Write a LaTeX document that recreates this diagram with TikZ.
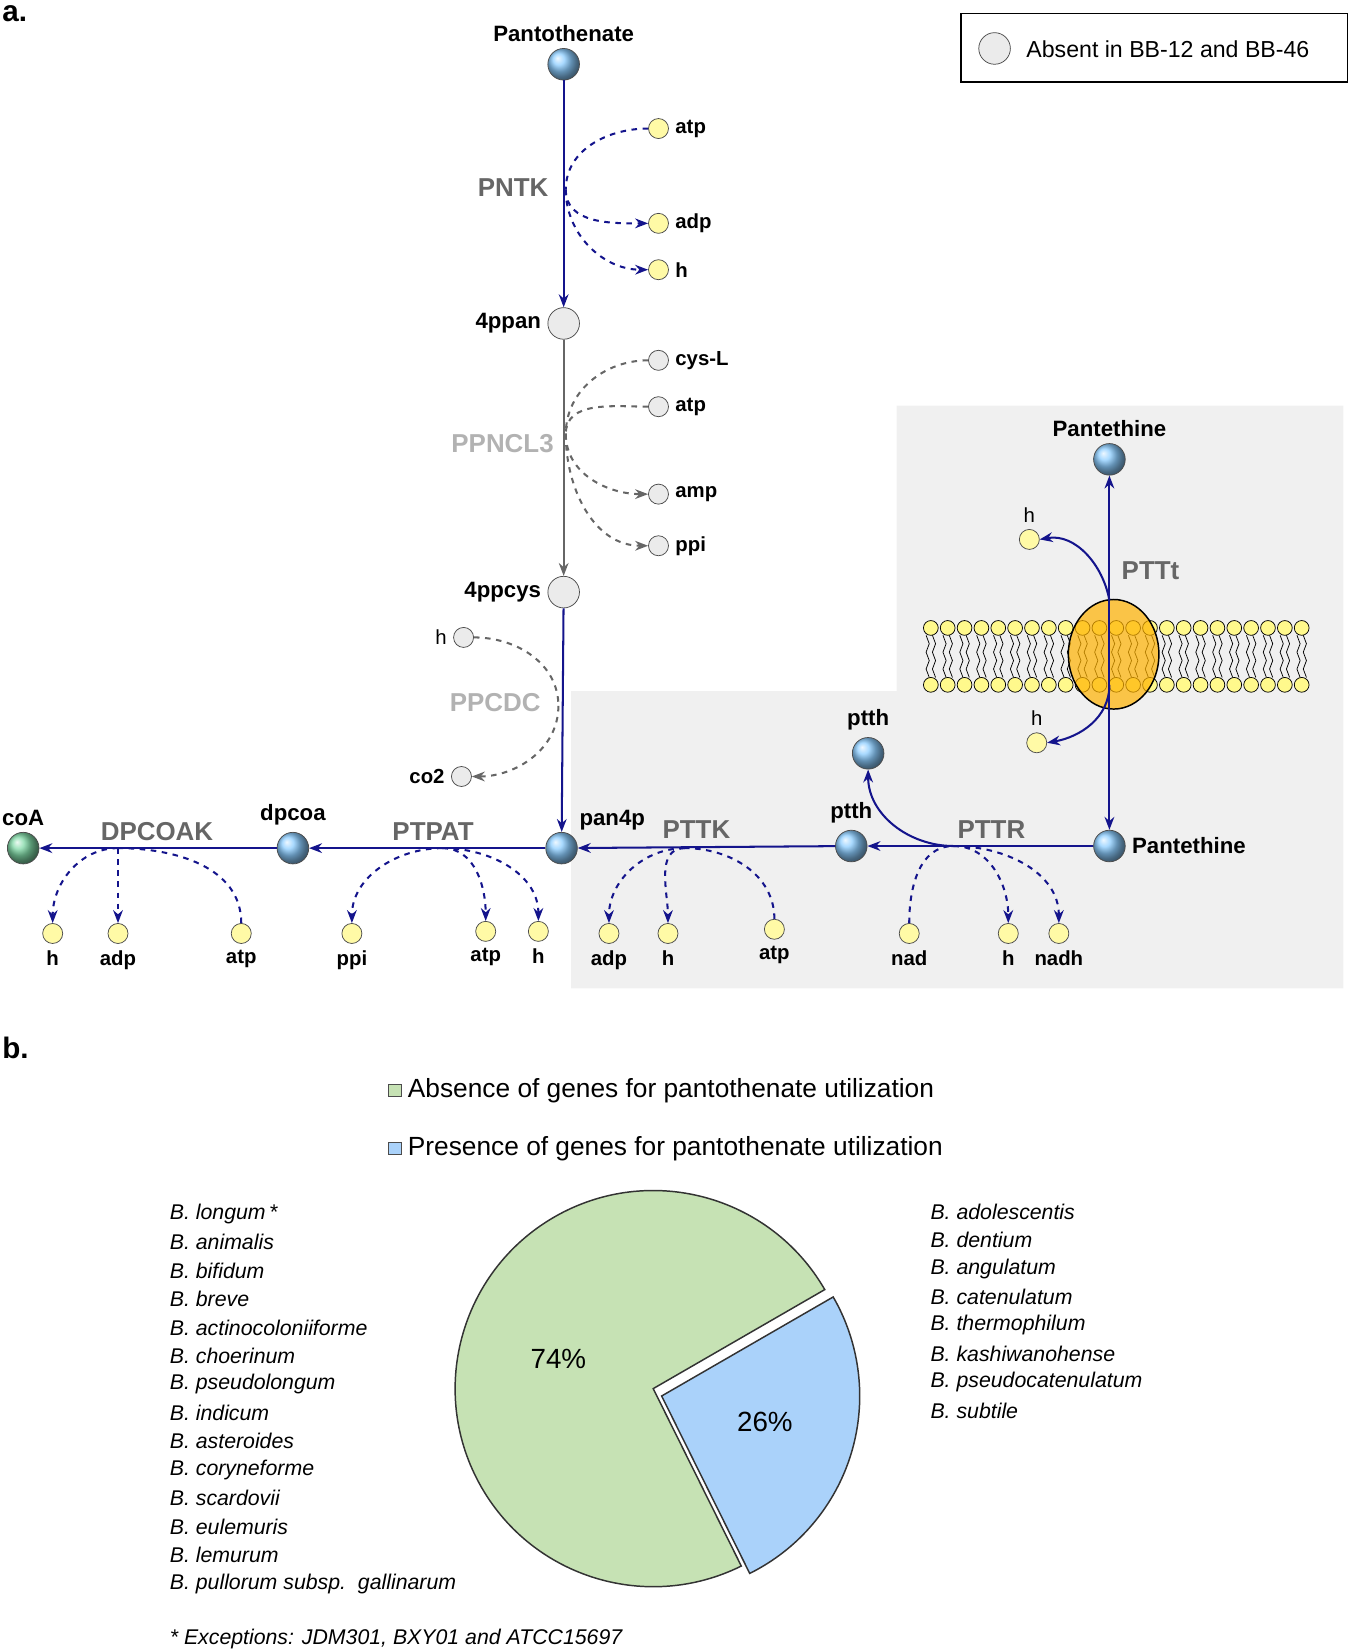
\documentclass[tikz,border=0pt]{standalone}
\usepackage{fontspec}
\setmainfont{Liberation Sans}
\usetikzlibrary{arrows.meta}
\definecolor{navy}{RGB}{20,20,140}
\definecolor{ballblue}{RGB}{140,205,255}
\definecolor{pgreen}{RGB}{198,226,180}
\definecolor{pblue}{RGB}{170,210,250}
\tikzset{
  met/.style={circle,draw=black!70,minimum size=0.6cm,inner sep=0pt,ball color=ballblue},
  gmet/.style={circle,draw=black!70,minimum size=0.6cm,inner sep=0pt,fill=black!8},
  cof/.style={circle,draw=black!70,minimum size=0.38cm,inner sep=0pt,fill=yellow!35},
  gcof/.style={circle,draw=black!70,minimum size=0.38cm,inner sep=0pt,fill=black!8},
  lbl/.style={font=\fontsize{12}{14}\selectfont\bfseries},
  clbl/.style={font=\fontsize{11}{13}\selectfont\bfseries},
  hlbl/.style={font=\fontsize{11}{13}\selectfont},
  enz/.style={font=\fontsize{14}{16}\selectfont\bfseries,text=black!60},
  genz/.style={font=\fontsize{14}{16}\selectfont\bfseries,text=black!30},
  rxn/.style={navy,line width=1.1pt,-{Stealth[length=7pt]}},
  cof line/.style={navy,line width=1.1pt,dashed},
  gcof line/.style={black!60,line width=1.1pt,dashed},
  sp/.style={font=\fontsize{11.5}{13}\selectfont\itshape,anchor=west},
}
\begin{document}
\begin{tikzpicture}[x=0.02cm,y=-0.02cm]
\useasboundingbox (0,0) rectangle (1280,1568);
% panels
\fill[black!6] (542,656) -- (851,656) -- (851,385) -- (1275,385) -- (1275,938) -- (542,938) -- cycle;
\node[font=\fontsize{16}{18}\selectfont\bfseries,anchor=west] at (-4,13) {a.};
\node[font=\fontsize{16}{18}\selectfont\bfseries,anchor=west] at (-4,995) {b.};
% legend
\draw[thick] (912,13) rectangle (1279,78);
\node[gmet] (leg) at (944,46) {};
\node[font=\fontsize{12.5}{14}\selectfont,anchor=west] at (968,47) {Absent in BB-12 and BB-46};

% main metabolites
\node[met,label={[lbl]above:Pantothenate}] (pnto) at (535,61) {};
\node[gmet,label={[lbl]left:4ppan}] (ppan) at (535,307) {};
\node[gmet,label={[lbl]left:4ppcys}] (ppcys) at (535,562) {};
\node[met,label={[lbl,anchor=south west]north east:pan4p}] (pan4p) at (533,805) {};
\node[met,label={[lbl]above:dpcoa}] (dpcoa) at (278,805) {};
\node[circle,draw=black!70,minimum size=0.6cm,inner sep=0pt,ball color=green!40!teal!50,label={[lbl]above:coA}] (coa) at (22,805) {};
\node[met,label={[lbl]above:ptth}] (ptth) at (808,803) {};
\node[met,label={[lbl]above:ptth}] (ptthb) at (824,715) {};
\node[met,label={[lbl]right:Pantethine}] (ptne) at (1053,803) {};
\node[met,label={[lbl]above:Pantethine}] (ptnt) at (1053,436) {};

% PNTK
\node[enz] at (487,178) {PNTK};
\draw[rxn] (pnto) -- (ppan);
\coordinate (r1) at (537,180);
\node[cof,label={[clbl]right:atp}] (atp1) at (625,122) {};
\node[cof,label={[clbl]right:adp}] (adp1) at (625,212) {};
\node[cof,label={[clbl]right:h}] (h1) at (625,256) {};
\draw[cof line] (atp1.west) to[out=180,in=90] (r1);
\draw[cof line,-{Stealth[length=7pt]}] (r1) to[out=-90,in=180] (adp1.west);
\draw[cof line,-{Stealth[length=7pt]}] (r1) to[out=-90,in=180] (h1.west);

% PPNCL3
\node[genz] at (477,421) {PPNCL3};
\draw[black!60,line width=1.1pt,-{Stealth[length=7pt]}] (ppan) -- (ppcys);
\coordinate (r2) at (537,412);
\node[gcof,label={[clbl]right:cys-L}] (cys) at (625,342) {};
\node[gcof,label={[clbl]right:atp}] (atp2) at (625,386) {};
\node[gcof,label={[clbl]right:amp}] (amp) at (625,469) {};
\node[gcof,label={[clbl]right:ppi}] (ppi2) at (625,518) {};
\draw[gcof line] (cys.west) to[out=180,in=90] (r2);
\draw[gcof line] (atp2.west) to[out=180,in=90] (r2);
\draw[gcof line,-{Stealth[length=7pt]}] (r2) to[out=-90,in=180] (amp.west);
\draw[gcof line,-{Stealth[length=7pt]}] (r2) to[out=-90,in=180] (ppi2.west);

% PPCDC
\node[genz] at (470,667) {PPCDC};
\draw[rxn] (ppcys) -- (pan4p);
\node[gcof,label={[hlbl]left:h}] (h3) at (440,605) {};
\node[gcof,label={[clbl]left:co2}] (co2) at (438,737) {};
\coordinate (r3) at (530,670);
\draw[gcof line] (h3.east) to[out=0,in=90] (r3);
\draw[gcof line,-{Stealth[length=7pt]}] (r3) to[out=-90,in=0] (co2.east);

% PTTt and membrane
\foreach \x in {882,898,...,1238} {
  \draw[black] (\x-3,603) -- (\x,611) -- (\x-3,619) -- (\x,627) -- (\x-3,635) -- (\x,643);
  \draw[black] (\x+3,603) -- (\x+6,611) -- (\x+3,619) -- (\x+6,627) -- (\x+3,635) -- (\x+6,643);
  \filldraw[draw=black,fill=yellow!45] (\x+1.5,596) circle[radius=7];
  \filldraw[draw=black,fill=yellow!45] (\x+1.5,650) circle[radius=7];
}
\filldraw[draw=black,thick,fill=orange!60!yellow,fill opacity=0.7] (1057,621) ellipse[x radius=43,y radius=52];
\node[enz] at (1092,542) {PTTt};
\draw[navy,line width=1.1pt,{Stealth[length=7pt]}-{Stealth[length=7pt]}] (ptnt) -- (ptne);
\node[cof,label={[hlbl]above:h}] (h4) at (977,512) {};
\node[cof,label={[hlbl]above:h}] (h5) at (984,705) {};
\coordinate (r4) at (1053,570);
\coordinate (r5) at (1053,650);
\draw[rxn] (r4) to[out=100,in=10] (h4.east);
\draw[rxn] (r5) to[out=-90,in=10] (h5.east);

% PTTR
\node[enz] at (941,787) {PTTR};
\draw[rxn] (ptne) -- (ptth);
\coordinate (r6) at (905,803);
\draw[rxn] (r6) to[out=180,in=-90] (ptthb);
\node[cof,label={[clbl]below:nad}] (nad) at (863,886) {};
\node[cof,label={[clbl]below:h}] (h6) at (957,886) {};
\node[cof,label={[clbl]below:nadh}] (nadh) at (1005,886) {};
\draw[cof line] (nad.north) to[out=90,in=180] (r6);
\draw[cof line,-{Stealth[length=7pt]}] (r6) to[out=0,in=90] (h6.north);
\draw[cof line,-{Stealth[length=7pt]}] (r6) to[out=0,in=90] (nadh.north);

% PTTK
\node[enz] at (661,787) {PTTK};
\draw[rxn] (ptth) -- (pan4p);
\coordinate (r7) at (650,805);
\node[cof,label={[clbl]below:adp}] (adp7) at (578,886) {};
\node[cof,label={[clbl]below:h}] (h7) at (634,886) {};
\node[cof,label={[clbl]below:atp}] (atp7) at (735,882) {};
\draw[cof line,-{Stealth[length=7pt]}] (r7) to[out=180,in=90] (adp7.north);
\draw[cof line,-{Stealth[length=7pt]}] (r7) to[out=180,in=90] (h7.north);
\draw[cof line] (atp7.north) to[out=90,in=0] (r7);

% PTPAT
\node[enz] at (411,789) {PTPAT};
\draw[rxn] (pan4p) -- (dpcoa);
\coordinate (r8) at (420,805);
\node[cof,label={[clbl]below:ppi}] (ppi8) at (334,886) {};
\node[cof,label={[clbl]below:atp}] (atp8) at (461,884) {};
\node[cof,label={[clbl]below:h}] (h8) at (511,884) {};
\draw[cof line,-{Stealth[length=7pt]}] (r8) to[out=180,in=90] (ppi8.north);
\draw[cof line,-{Stealth[length=7pt]}] (r8) to[out=0,in=90] (atp8.north);
\draw[cof line,-{Stealth[length=7pt]}] (r8) to[out=0,in=90] (h8.north);

% DPCOAK
\node[enz] at (149,789) {DPCOAK};
\draw[rxn] (dpcoa) -- (coa);
\coordinate (r9) at (112,805);
\node[cof,label={[clbl]below:h}] (h9) at (50,886) {};
\node[cof,label={[clbl]below:adp}] (adp9) at (112,886) {};
\node[cof,label={[clbl]below:atp}] (atp9) at (229,886) {};
\draw[cof line,-{Stealth[length=7pt]}] (r9) to[out=180,in=90] (h9.north);
\draw[cof line,-{Stealth[length=7pt]}] (r9) to[out=-90,in=90] (adp9.north);
\draw[cof line] (atp9.north) to[out=90,in=0] (r9);

% part b
\filldraw[draw=black!70,fill=pgreen] (369,1029) rectangle (381,1041);
\node[font=\fontsize{14.2}{16}\selectfont,anchor=west] at (381,1035) {Absence of genes for pantothenate utilization};
\filldraw[draw=black!70,fill=pblue] (369,1084) rectangle (381,1096);
\node[font=\fontsize{14.2}{16}\selectfont,anchor=west] at (381,1090) {Presence of genes for pantothenate utilization};
\begin{scope}[shift={(620,1318)},x=0.02cm,y=0.02cm]
  \filldraw[draw=black!80,thick,fill=pgreen] (0,0) -- (30:188) arc[start angle=30,end angle=296.4,radius=188] -- cycle;
  \filldraw[draw=black!80,thick,fill=pblue] (8,-7) -- ++(-63.6:188) arc[start angle=-63.6,end angle=30,radius=188] -- cycle;
\end{scope}
\node[font=\fontsize{15}{17}\selectfont] at (530,1290) {74\%};
\node[font=\fontsize{15}{17}\selectfont] at (726,1350) {26\%};
\foreach \s [count=\i from 0] in {{B. longum\,*},B. animalis,B. bifidum,B. breve,B. actinocoloniiforme,B. choerinum,B. pseudolongum,B. indicum,B. asteroides,B. coryneforme,B. scardovii,B. eulemuris,B. lemurum,{B. pullorum subsp.\ \ gallinarum}}
  \node[sp] at (155,1152+27*\i) {\s};
\foreach \s [count=\i from 0] in {B. adolescentis,B. dentium,B. angulatum,B. catenulatum,B. thermophilum,B. kashiwanohense,B. pseudocatenulatum,B. subtile}
  \node[sp] at (877,1150+27*\i) {\s};
\node[sp] at (155,1556) {* Exceptions: JDM301, BXY01 and ATCC15697};
\end{tikzpicture}
\end{document}
